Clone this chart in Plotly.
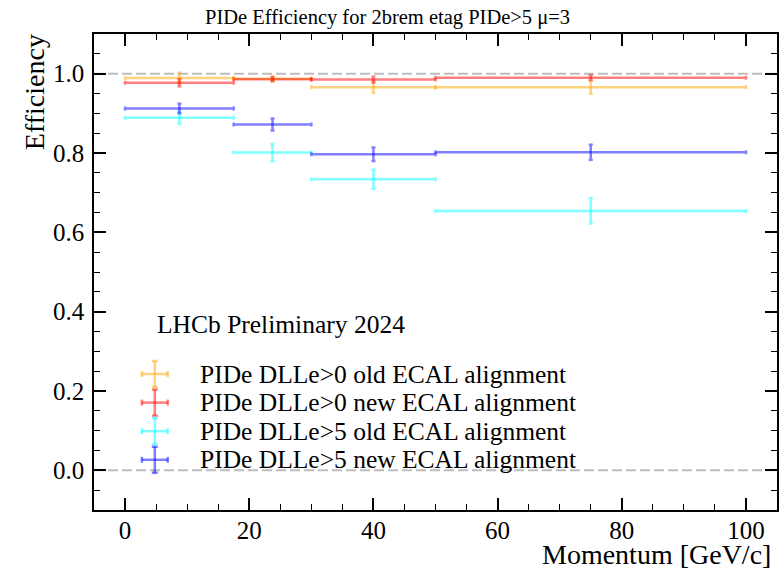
import plotly.graph_objects as go

# Momentum bins [GeV/c]
bin_lo = [0.0, 17.5, 30.0, 50.0]
bin_hi = [17.5, 30.0, 50.0, 100.0]

# Efficiencies and their uncertainties per selection
eff_dll0_old = [0.989, 0.987, 0.966, 0.966]
err_dll0_old = [0.013, 0.006, 0.014, 0.016]
eff_dll0_new = [0.977, 0.986, 0.985, 0.990]
err_dll0_new = [0.009, 0.005, 0.007, 0.006]
eff_dll5_old = [0.889, 0.801, 0.734, 0.654]
err_dll5_old = [0.015, 0.022, 0.024, 0.032]
eff_dll5_new = [0.912, 0.872, 0.797, 0.802]
err_dll5_new = [0.012, 0.015, 0.017, 0.019]

names = [
    "PIDe DLLe>0 old ECAL alignment",
    "PIDe DLLe>0 new ECAL alignment",
    "PIDe DLLe>5 old ECAL alignment",
    "PIDe DLLe>5 new ECAL alignment",
]
colors = [
    "rgba(255,165,0,0.5)",
    "rgba(255,0,0,0.5)",
    "rgba(0,255,255,0.5)",
    "rgba(0,0,255,0.5)",
]
series = [
    (eff_dll0_old, err_dll0_old),
    (eff_dll0_new, err_dll0_new),
    (eff_dll5_old, err_dll5_old),
    (eff_dll5_new, err_dll5_new),
]

x_mid = [(a + b) / 2 for a, b in zip(bin_lo, bin_hi)]
x_half = [(b - a) / 2 for a, b in zip(bin_lo, bin_hi)]

FONT = "Liberation Serif, Times New Roman, serif"

# figure / plot-area geometry in pixels
W, H = 780, 571
ML, MR, MT, MB = 94, 1, 34, 61
PW, PH = W - ML - MR, H - MT - MB


def px_x(px):
    return (px - ML) / PW


def px_y(py):
    return (H - MB - py) / PH


fig = go.Figure()

for name, color, (eff, err) in zip(names, colors, series):
    fig.add_trace(go.Scatter(
        x=x_mid, y=eff, mode="markers", name=name,
        marker=dict(size=1, color="rgba(0,0,0,0)"),
        error_x=dict(type="data", array=x_half, color=color, thickness=2.5, width=2),
        error_y=dict(type="data", array=err, color=color, thickness=2.5, width=2),
        showlegend=False, hoverinfo="skip",
    ))

shapes = []
# reference lines at 0 and 1
for yv in (0.0, 1.0):
    shapes.append(dict(type="line", xref="paper", yref="y", x0=0, x1=1, y0=yv, y1=yv,
                       line=dict(color="#bdbdbd", width=2, dash="10px,4px"), layer="below"))

annotations = [
    dict(text="PIDe Efficiency for 2brem etag PIDe>5 μ=3", xref="paper", yref="paper",
         x=px_x(388), y=px_y(4), xanchor="center", yanchor="top", showarrow=False,
         font=dict(family=FONT, size=20.5)),
    dict(text="LHCb Preliminary 2024", xref="paper", yref="paper",
         x=px_x(155), y=px_y(324), xanchor="left", yanchor="middle", showarrow=False,
         font=dict(family=FONT, size=25.5)),
    dict(text="Efficiency", xref="paper", yref="paper", textangle=-90,
         x=px_x(34), y=px_y(32), xanchor="center", yanchor="top", showarrow=False,
         font=dict(family=FONT, size=28)),
    dict(text="Momentum [GeV/c]", xref="paper", yref="paper",
         x=px_x(775), y=px_y(537), xanchor="right", yanchor="top", showarrow=False,
         font=dict(family=FONT, size=28)),
]

# legend drawn as errorbar-style crosses with labels
leg_cx, leg_row0, leg_step = 155, 374, 28.6
leg_hw, leg_hh, cap = 13, 13, 3
for i, (name, color) in enumerate(zip(names, colors)):
    cy = leg_row0 + i * leg_step
    seg = dict(type="line", xref="paper", yref="paper", line=dict(color=color, width=2.5))
    shapes.append({**seg, "x0": px_x(leg_cx - leg_hw), "x1": px_x(leg_cx + leg_hw),
                   "y0": px_y(cy), "y1": px_y(cy)})
    shapes.append({**seg, "x0": px_x(leg_cx), "x1": px_x(leg_cx),
                   "y0": px_y(cy - leg_hh), "y1": px_y(cy + leg_hh)})
    for sx in (-leg_hw, leg_hw):
        shapes.append({**seg, "x0": px_x(leg_cx + sx), "x1": px_x(leg_cx + sx),
                       "y0": px_y(cy - cap), "y1": px_y(cy + cap)})
    for sy in (-leg_hh, leg_hh):
        shapes.append({**seg, "x0": px_x(leg_cx - cap), "x1": px_x(leg_cx + cap),
                       "y0": px_y(cy + sy), "y1": px_y(cy + sy)})
    annotations.append(dict(text=name, xref="paper", yref="paper",
                            x=px_x(198), y=px_y(cy), xanchor="left", yanchor="middle",
                            showarrow=False, font=dict(family=FONT, size=25.5)))

axis_common = dict(
    showline=True, linecolor="black", linewidth=1.5, mirror="allticks",
    ticks="inside", ticklen=12, tickwidth=1.5, tickcolor="black",
    showgrid=False, zeroline=False,
    tickfont=dict(family=FONT, size=25, color="black"),
    minor=dict(ticks="inside", ticklen=6, tickwidth=1.2, tickcolor="black", showgrid=False),
)

fig.update_xaxes(range=[-5, 105], dtick=20, tick0=0, minor_dtick=5,
                 ticklabelstandoff=-3, **axis_common)
fig.update_yaxes(range=[-0.1, 1.1], dtick=0.2, tick0=0, minor_dtick=0.05,
                 tickformat=".1f", ticklabelstandoff=3, **axis_common)

fig.update_layout(
    width=W, height=H,
    margin=dict(l=ML, r=MR, t=MT, b=MB),
    paper_bgcolor="white", plot_bgcolor="white",
    font=dict(family=FONT, color="black"),
    showlegend=False,
    shapes=shapes,
    annotations=annotations,
)

fig.write_html("out.html")
